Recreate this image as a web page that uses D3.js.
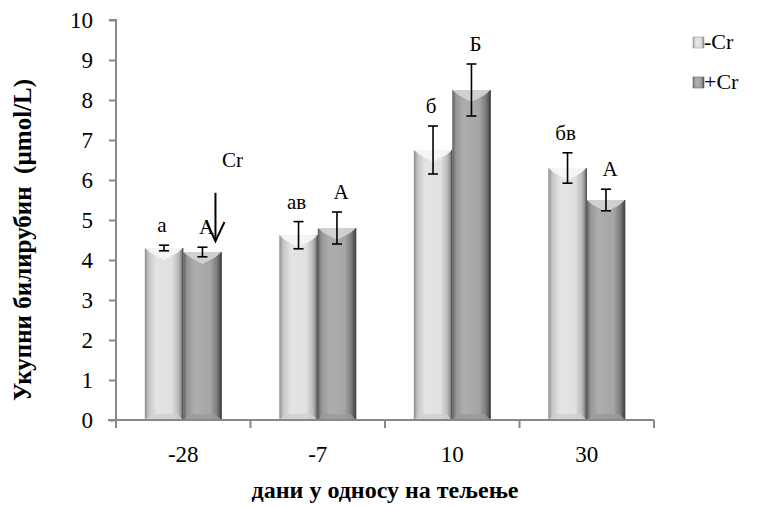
<!DOCTYPE html>
<html><head><meta charset="utf-8">
<script src="https://cdn.jsdelivr.net/npm/d3@7/dist/d3.min.js"></script>
<style>body{margin:0;background:#fff;}svg{display:block;}svg text{font-family:"Liberation Serif","Times New Roman",serif !important;}</style>
</head><body><svg id="c" width="758" height="507"></svg>
<script>
const categories = ["-28", "-7", "10", "30"];
const seriesNames = ["-Cr", "+Cr"];
const minusCr = [4.3, 4.62, 6.75, 6.3];
const minusCrErr = [0.07, 0.34, 0.6, 0.38];
const plusCr = [4.2, 4.8, 8.25, 5.5];
const plusCrErr = [0.12, 0.4, 0.65, 0.27];
const minusLabels = ["а", "ав", "б", "бв"];
const plusLabels = ["А", "А", "Б", "А"];
const yTicks = [0,1,2,3,4,5,6,7,8,9,10];

const svg = d3.select("#c");
const m = {l:116, r:654, t:20, b:420};
const x = d3.scaleBand().domain(categories).range([m.l, m.r]).paddingInner(0).paddingOuter(0);
const x1 = d3.scaleBand().domain(seriesNames).range([0, x.bandwidth()]).paddingInner(0).paddingOuter(0.75);
const y = d3.scaleLinear().domain([0,10]).range([m.b, m.t]);

const defs = svg.append("defs");
function grad(id, stops){
  const g = defs.append("linearGradient").attr("id", id).attr("x1","0").attr("x2","1").attr("y1","0").attr("y2","0");
  stops.forEach(s => g.append("stop").attr("offset", s[0]).attr("stop-color", s[1]));
}
grad("gL", [[0,"#8e8e8e"],[0.1,"#c4c4c4"],[0.3,"#e4e4e4"],[0.7,"#e0e0e0"],[0.88,"#b8b8b8"],[1,"#6a6a6a"]]);
grad("gD", [[0,"#5e5e5e"],[0.1,"#969696"],[0.3,"#adadad"],[0.7,"#a6a6a6"],[0.88,"#7a7a7a"],[1,"#3a3a3a"]]);
const topCol = ["#f6f6f6", "#d2d2d2"];
const edgeCol = ["#d0d0d0", "#9a9a9a"];

const data = [];
categories.forEach((c,i) => {
  data.push({c, s:0, v:minusCr[i], e:minusCrErr[i], lab:minusLabels[i]});
  data.push({c, s:1, v:plusCr[i], e:plusCrErr[i], lab:plusLabels[i]});
});

const bars = svg.append("g");
data.forEach(d => {
  const bx = x(d.c) + x1(seriesNames[d.s]);
  const bw = x1.bandwidth();
  const by = y(d.v), bh = y(0) - y(d.v);
  const g = bars.append("g");
  g.append("rect").attr("x", bx).attr("y", by).attr("width", bw).attr("height", bh)
    .attr("fill", d.s ? "url(#gD)" : "url(#gL)");
  const bev = 12;
  g.append("path").attr("d", `M${bx},${by} L${bx+bw},${by} L${bx+bw-6},${by+5} L${bx+bw/2},${by+bev} L${bx+6},${by+5}Z`)
    .attr("fill", topCol[d.s]).attr("opacity", 0.95);
  g.append("path").attr("d", `M${bx},${y(0)} L${bx+bw},${y(0)} L${bx+bw-6},${y(0)-6} L${bx+6},${y(0)-6}Z`)
    .attr("fill", edgeCol[d.s]).attr("opacity", 0.8);
  g.append("line").attr("x1", bx+bw-0.5).attr("x2", bx+bw-0.5).attr("y1", by).attr("y2", y(0)).attr("stroke", "#4a4a4a").attr("stroke-width",1);
});

// error bars
const eb = svg.append("g").attr("stroke","#000").attr("stroke-width",1.6);
data.forEach(d => {
  const cx = x(d.c) + x1(seriesNames[d.s]) + x1.bandwidth()/2;
  eb.append("line").attr("x1",cx).attr("x2",cx).attr("y1",y(d.v+d.e)).attr("y2",y(d.v-d.e));
  eb.append("line").attr("x1",cx-5).attr("x2",cx+5).attr("y1",y(d.v+d.e)).attr("y2",y(d.v+d.e));
  eb.append("line").attr("x1",cx-5).attr("x2",cx+5).attr("y1",y(d.v-d.e)).attr("y2",y(d.v-d.e));
});

// significance labels
data.forEach(d => {
  const cx = x(d.c) + x1(seriesNames[d.s]) + x1.bandwidth()/2 + (d.s ? 4 : -2);
  svg.append("text").attr("x", cx).attr("y", y(d.v+d.e) - 13).attr("text-anchor","middle")
    .style("font-size","21px").text(d.lab);
});

// Cr arrow
const ax = x("-28") + x1("+Cr") + x1.bandwidth()/2 + 13;
svg.append("text").attr("x", ax + 17).attr("y", y(6.33)).attr("text-anchor","middle").style("font-size","21px").text("Cr");
svg.append("line").attr("x1",ax).attr("x2",ax).attr("y1",y(5.68)).attr("y2",y(4.5)).attr("stroke","#000").attr("stroke-width",2);
svg.append("path").attr("d",`M${ax-9},${y(4.95)} L${ax},${y(4.47)} L${ax+9},${y(4.95)}`).attr("fill","none").attr("stroke","#000").attr("stroke-width",2);

// axes
const yAxis = svg.append("g").attr("transform",`translate(${m.l},0)`)
  .call(d3.axisLeft(y).tickValues(yTicks).tickSize(7).tickPadding(16).tickSizeOuter(0));
yAxis.select(".domain").attr("stroke","#888").attr("stroke-width",2).attr("d", `M0,${m.b}V${m.t}H-7`);
yAxis.selectAll(".tick line").attr("stroke","#888").attr("stroke-width",2);
yAxis.selectAll(".tick text").style("font-size","23px").attr("fill","#000").attr("dy","0.34em");

const xAxis = svg.append("g").attr("transform",`translate(0,${m.b})`)
  .call(d3.axisBottom(x).tickSize(0).tickPadding(26));
xAxis.select(".domain").attr("stroke","#888").attr("stroke-width",2).attr("d", `M${m.l-8},0H${m.r}`);
xAxis.selectAll(".tick text").style("font-size","23px").attr("fill","#000");
const bounds = categories.map(c => x(c)).concat([x(categories[categories.length-1]) + x.bandwidth()]);
xAxis.selectAll(".bt").data(bounds).enter().append("line")
  .attr("x1", d=>d).attr("x2", d=>d).attr("y1",0).attr("y2",8).attr("stroke","#888").attr("stroke-width",2);

// titles
svg.append("text").attr("transform",`translate(31,${(m.t+m.b)/2+20}) rotate(-90)`).attr("text-anchor","middle")
  .style("font-size","25px").attr("font-weight","bold").style("white-space","pre").text("Укупни билирубин  (µmol/L)");
svg.append("text").attr("x",(m.l+m.r)/2).attr("y",498).attr("text-anchor","middle")
  .style("font-size","24px").attr("font-weight","bold").text("дани у односу на тељење");

// legend
const leg = svg.append("g");
seriesNames.forEach((s,i) => {
  const ly = 43 + i*40;
  leg.append("rect").attr("x",693).attr("y",ly-6).attr("width",11).attr("height",11).attr("fill", i ? "url(#gD)" : "url(#gL)").attr("stroke", i?"#666":"#999").attr("stroke-width",0.6);
  leg.append("text").attr("x",704).attr("y",ly+6).style("font-size","22px").text(s);
});
</script></body></html>
